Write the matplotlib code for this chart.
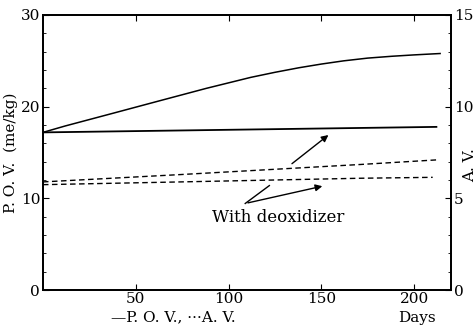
import matplotlib
matplotlib.use("Agg")
import matplotlib.pyplot as plt
from matplotlib.ticker import MultipleLocator

plt.rcParams["font.family"] = ["DejaVu Serif"]

# P.O.V. (me/kg), solid lines, left axis
pov_days = [0, 12, 25, 38, 50, 62, 75, 88, 100, 112, 125, 138, 150, 162, 175, 188, 200, 214]
pov_ctrl = [17.2, 17.9, 18.6, 19.3, 19.95, 20.6, 21.3, 22.0, 22.6, 23.2, 23.75, 24.25, 24.65, 25.0, 25.3, 25.5, 25.65, 25.8]
pov_deox_days = [0, 212]
pov_deox = [17.2, 17.8]

# A.V., dashed lines, right axis
av_up_days = [0, 74, 171, 212]
av_up = [5.9, 6.3, 6.85, 7.1]
av_lo_days = [0, 74, 171, 210]
av_lo = [5.75, 5.9, 6.1, 6.15]

fig = plt.figure(figsize=(4.77, 3.26), dpi=100)
ax = fig.add_axes([0.090, 0.110, 0.856, 0.844])
ax2 = ax.twinx()

ax.plot(pov_days, pov_ctrl, color="black", lw=1.1)
ax.plot(pov_deox_days, pov_deox, color="black", lw=1.3)
ax2.plot(av_up_days, av_up, color="black", lw=1.0, ls=(0, (4, 2.5)))
ax2.plot(av_lo_days, av_lo, color="black", lw=1.0, ls=(0, (4, 2.5)))

ax.set_xlim(0, 220)
ax.set_ylim(0, 30)
ax2.set_ylim(0, 15)

ax.yaxis.set_major_locator(MultipleLocator(10))
ax.yaxis.set_minor_locator(MultipleLocator(2))
ax2.yaxis.set_major_locator(MultipleLocator(5))
ax2.yaxis.set_minor_locator(MultipleLocator(1))
ax.set_xticks([50, 100, 150, 200])

ax.tick_params(axis="x", direction="in", top=True, length=4, labelsize=11, pad=1)
ax.tick_params(axis="y", which="major", direction="in", length=4, labelsize=11, pad=2)
ax.tick_params(axis="y", which="minor", direction="in", length=2)
ax2.tick_params(axis="y", which="major", direction="in", length=4, labelsize=11, pad=2)
ax2.tick_params(axis="y", which="minor", direction="in", length=2)

for a in (ax, ax2):
    for s in a.spines.values():
        s.set_linewidth(1.3)

ax.set_ylabel("P. O. V.  (me/kg)", fontsize=11, labelpad=2)
ax.text(1.045, 0.455, "A. V.", transform=ax.transAxes, rotation=90,
        ha="center", va="center", fontsize=11)
ax.text(0.32, -0.098, "—P. O. V., ···A. V.", transform=ax.transAxes,
        ha="center", va="center", fontsize=11)
ax.text(0.915, -0.1, "Days", transform=ax.transAxes,
        ha="center", va="center", fontsize=11)

ax.text(127, 7.9, "With deoxidizer", ha="center", va="center", fontsize=12)
arrow = dict(arrowstyle="-|>", color="black", lw=1.0, mutation_scale=10)
ax.annotate("", xy=(155, 17.1), xytext=(133, 13.6), arrowprops=arrow)
ax.annotate("", xy=(152, 11.4), xytext=(109, 9.45), arrowprops=arrow)
ax.plot([109, 122], [9.45, 11.4], color="black", lw=1.0)

fig.savefig("out.png", dpi=100)
